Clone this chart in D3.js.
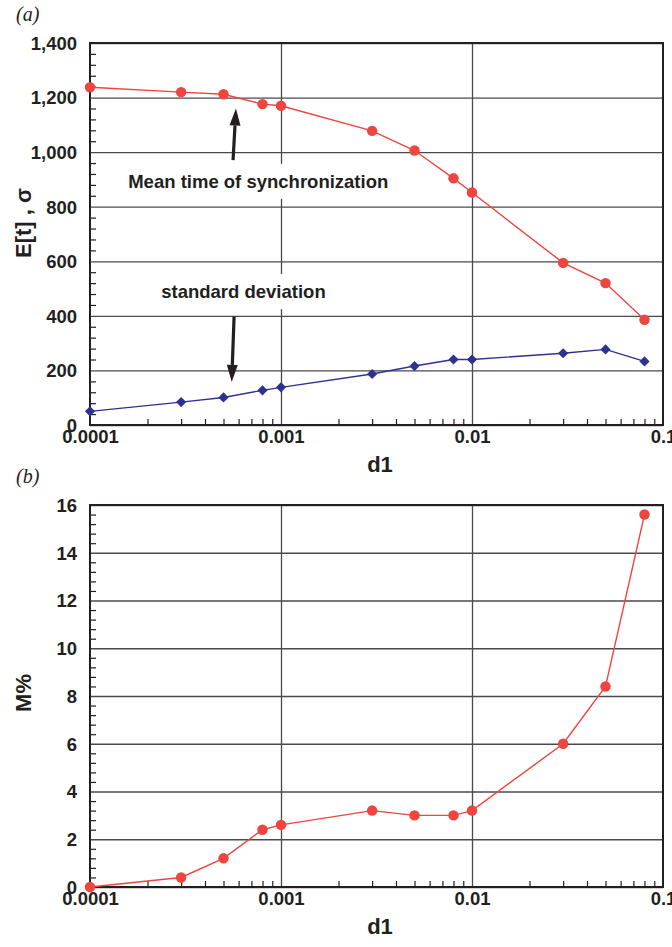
<!DOCTYPE html>
<html>
<head>
<meta charset="utf-8">
<script src="https://cdn.jsdelivr.net/npm/d3@7"></script>
<style>
  html, body { margin: 0; padding: 0; background: #fff; }
  svg { display: block; }
  .tick text { font-family: "Liberation Sans", Arial, sans-serif; font-weight: bold; fill: #231f20; }
</style>
</head>
<body>
<svg id="chart" width="672" height="947"></svg>
<script>
// d1 values shared by both panels
const d1Values = [0.0001, 0.0003, 0.0005, 0.0008, 0.001, 0.003, 0.005, 0.008, 0.01, 0.03, 0.05, 0.08];
// panel (a): mean time of synchronization E[t] and its standard deviation
const meanTime = [1238, 1220, 1212, 1176, 1170, 1078, 1006, 904, 852, 594, 520, 386];
const stdDev   = [50, 84, 101, 127, 138, 187, 216, 240, 240, 263, 277, 233];
// panel (b): M%
const mPercent = [0, 0.4, 1.2, 2.4, 2.6, 3.2, 3.0, 3.0, 3.2, 6.0, 8.4, 15.6];

// tick labels
const xTickValues = [0.0001, 0.001, 0.01, 0.1];
const xTickLabels = ["0.0001", "0.001", "0.01", "0.1"];
const yTicksA = [0, 200, 400, 600, 800, 1000, 1200, 1400];
const yTicksB = [0, 2, 4, 6, 8, 10, 12, 14, 16];

const FONT = '"Liberation Sans", Arial, sans-serif';
const INK = "#231f20";
const RED = "#ee4540";
const BLUE = "#2e3192";

const svg = d3.select("#chart");

// minor log ticks 2..9 in each decade
const minorX = [];
[1e-4, 1e-3, 1e-2].forEach(dec => { for (let k = 2; k <= 9; k++) minorX.push(dec * k); });

function panel(cfg) {
  const x = d3.scaleLog().domain([1e-4, 1e-1]).range([90, 663]);
  const y = d3.scaleLinear().domain(cfg.yDomain).range([cfg.bottom, cfg.top]);
  const w = 663 - 90, h = cfg.bottom - cfg.top;
  const g = svg.append("g");

  // horizontal grid
  g.append("g").attr("transform", "translate(90,0)")
    .call(d3.axisLeft(y).tickValues(cfg.yTicks).tickSize(-w).tickFormat(""))
    .call(s => s.select(".domain").remove())
    .call(s => s.selectAll("line").attr("stroke", "#4a4a4a").attr("stroke-width", 1.3));
  // vertical grid at decades
  g.append("g").attr("transform", `translate(0,${cfg.bottom})`)
    .call(d3.axisBottom(x).tickValues([1e-3, 1e-2]).tickSize(-h).tickFormat(""))
    .call(s => s.select(".domain").remove())
    .call(s => s.selectAll("line").attr("stroke", "#4a4a4a").attr("stroke-width", 1.3));

  // minor ticks (inward)
  g.append("g").attr("transform", "translate(90,0)")
    .call(d3.axisLeft(y).tickValues(cfg.yMinor).tickSize(-6).tickFormat(""))
    .call(s => s.select(".domain").remove())
    .call(s => s.selectAll("line").attr("stroke", INK).attr("stroke-width", 1.2));
  g.append("g").attr("transform", `translate(0,${cfg.bottom})`)
    .call(d3.axisBottom(x).tickValues(minorX).tickSize(-6).tickFormat(""))
    .call(s => s.select(".domain").remove())
    .call(s => s.selectAll("line").attr("stroke", INK).attr("stroke-width", 1.2));

  // tick labels
  g.append("g").attr("transform", "translate(90,0)")
    .call(d3.axisLeft(y).tickValues(cfg.yTicks).tickSize(0).tickPadding(13).tickFormat(cfg.yFormat))
    .call(s => s.select(".domain").remove())
    .call(s => s.selectAll("text").attr("font-size", 18.5).attr("dy", "0.34em"));
  g.append("g").attr("transform", `translate(0,${cfg.bottom})`)
    .call(d3.axisBottom(x).tickValues(xTickValues).tickSize(0).tickPadding(5)
      .tickFormat((d, i) => xTickLabels[i]))
    .call(s => s.select(".domain").remove())
    .call(s => s.selectAll("text").attr("font-size", 18.5));

  // frame
  g.append("rect").attr("x", 90).attr("y", cfg.top).attr("width", w).attr("height", h)
    .attr("fill", "none").attr("stroke", INK).attr("stroke-width", 2);

  // axis titles
  g.append("text").attr("x", 380).attr("y", cfg.bottom + 47)
    .attr("text-anchor", "middle").attr("font-family", FONT).attr("font-weight", "bold")
    .attr("font-size", 22).attr("fill", INK).text("d1");
  g.append("text").attr("transform", `translate(31,${cfg.yTitleY}) rotate(-90)`)
    .attr("text-anchor", "middle").attr("font-family", FONT).attr("font-weight", "bold")
    .attr("font-size", 22).attr("fill", INK).text(cfg.yTitle);

  // panel letter
  g.append("text").attr("x", 16).attr("y", cfg.top - 22)
    .attr("font-family", '"Liberation Serif", "Times New Roman", serif').attr("font-style", "italic")
    .attr("font-size", 20).attr("fill", INK).text(cfg.letter);

  return { g, x, y };
}

function series(p, values, color, shape) {
  const pts = d1Values.map((d, i) => [d, values[i]]);
  const line = d3.line().x(d => p.x(d[0])).y(d => p.y(d[1]));
  p.g.append("path").datum(pts).attr("d", line)
    .attr("fill", "none").attr("stroke", color).attr("stroke-width", 1.4);
  const sym = d3.symbol().type(shape === "diamond" ? d3.symbolSquare : d3.symbolCircle)
    .size(shape === "diamond" ? 52 : 86);
  p.g.append("g").selectAll("path").data(pts).join("path")
    .attr("d", sym)
    .attr("transform", d => `translate(${p.x(d[0])},${p.y(d[1])})` + (shape === "diamond" ? " rotate(45)" : ""))
    .attr("fill", color);
}

function label(p, text, xv, yv) {
  const t = p.g.append("text").attr("x", p.x(xv)).attr("y", p.y(yv))
    .attr("text-anchor", "middle").attr("font-family", FONT).attr("font-weight", "bold")
    .attr("font-size", 18.5).attr("fill", INK).text(text);
  const b = t.node().getBBox();
  p.g.insert("rect", () => t.node())
    .attr("x", b.x - 4).attr("y", b.y - 7).attr("width", b.width + 8).attr("height", b.height + 14)
    .attr("fill", "#fff");
}

function arrow(p, from, to) {
  const x0 = p.x(from[0]), y0 = p.y(from[1]), x1 = p.x(to[0]), y1 = p.y(to[1]);
  const ang = Math.atan2(y1 - y0, x1 - x0);
  const L = 17, W = 5.5;
  const bx = x1 - L * Math.cos(ang), by = y1 - L * Math.sin(ang);
  p.g.append("line").attr("x1", x0).attr("y1", y0).attr("x2", bx).attr("y2", by)
    .attr("stroke", INK).attr("stroke-width", 3.2);
  const nx = -Math.sin(ang), ny = Math.cos(ang);
  p.g.append("path")
    .attr("d", `M${x1},${y1}L${bx + nx * W},${by + ny * W}L${bx - nx * W},${by - ny * W}Z`)
    .attr("fill", INK);
}

// panel (a)
const pa = panel({
  top: 43, bottom: 425, yDomain: [0, 1400], yTicks: yTicksA,
  yMinor: d3.range(40, 1400, 40).filter(v => v % 200 !== 0),
  yFormat: d3.format(","), yTitle: "E[t] , σ", yTitleY: 223, letter: "(a)"
});
label(pa, "Mean time of synchronization", 0.00076, 869);
label(pa, "standard deviation", 0.000636, 465);
arrow(pa, [0.000561, 971], [0.000581, 1160]);
arrow(pa, [0.000568, 397], [0.000552, 158]);
series(pa, meanTime, RED, "circle");
series(pa, stdDev, BLUE, "diamond");

// panel (b)
const pb = panel({
  top: 505, bottom: 887, yDomain: [0, 16], yTicks: yTicksB,
  yMinor: d3.range(0.4, 16, 0.4).filter(v => Math.abs(v / 2 - Math.round(v / 2)) > 0.01),
  yFormat: d3.format("d"), yTitle: "M%", yTitleY: 693, letter: "(b)"
});
series(pb, mPercent, RED, "circle");
</script>
</body>
</html>
